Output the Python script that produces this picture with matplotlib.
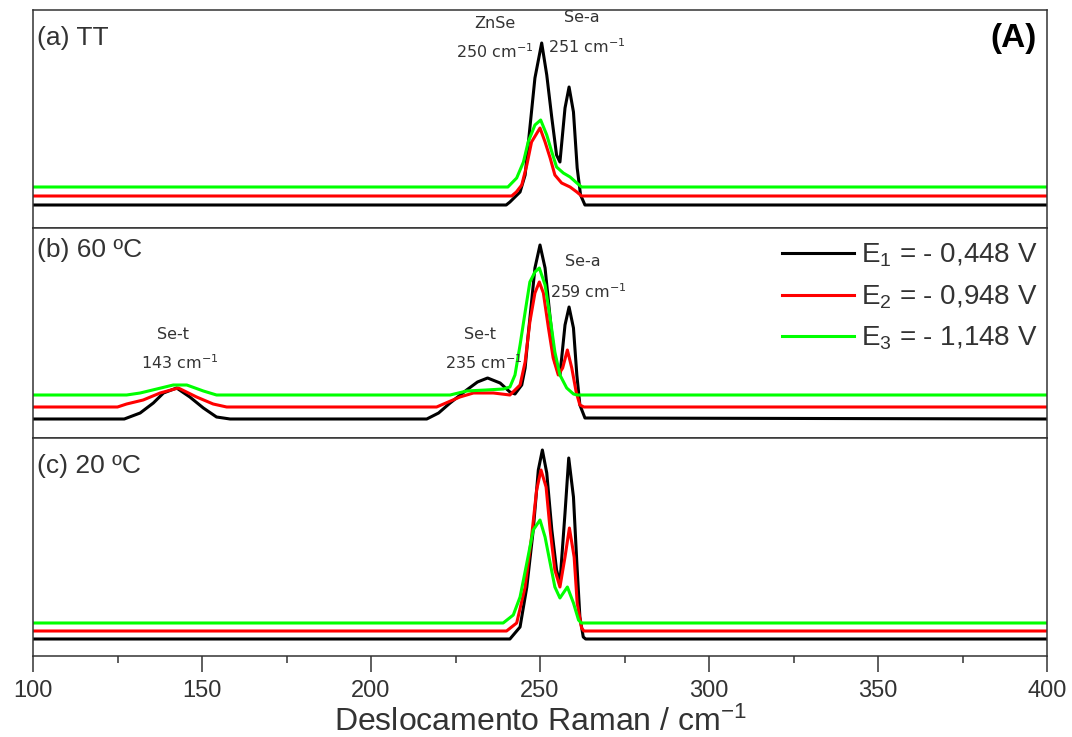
import matplotlib
matplotlib.use("Agg")
import matplotlib.pyplot as plt
from matplotlib.ticker import MultipleLocator

plt.rcParams['font.family'] = ['Liberation Sans', 'DejaVu Sans']
plt.rcParams['mathtext.fontset'] = 'custom'
plt.rcParams['mathtext.rm'] = 'Liberation Sans'
plt.rcParams['mathtext.it'] = 'Liberation Sans:italic'

TXT = '#333333'

# (a) TT
a_black_x = [100, 240, 241.1, 244.1, 245.6, 247, 248.5, 250.5, 252, 253.5, 254.9, 255.9, 257.4, 258.6, 259.9, 261, 262, 263.3, 400]
a_black_y = [0, 0, 3, 13, 30, 77, 127, 162, 130, 87, 50, 43, 97, 118, 93, 37, 10, 0, 0]
a_red_x = [100, 241.6, 243, 244.6, 246.1, 247.5, 250, 251.5, 253, 254.4, 256.4, 258.9, 260.9, 262.3, 400]
a_red_y = [0, 0, 4, 11, 31, 54, 68, 54, 38, 21, 13, 9, 4, 0, 0]
a_green_x = [100, 240.5, 243.1, 245.1, 246.5, 248.5, 250.2, 252, 253.5, 254.9, 256.9, 258.9, 260.9, 262.3, 400]
a_green_y = [0, 0, 9, 25, 45, 62, 67, 52, 35, 20, 14, 10, 4, 0, 0]

# (b) 60 ºC
b_black_x = [100, 127, 131.7, 135.6, 138.6, 142.5, 146.4, 150.4, 154.3, 158.3, 216.5, 220, 223.4, 228.3, 231.5,
             234.5, 238.2, 241.1, 242.6, 244.6, 245.6, 246.5, 247.5, 248.5, 250, 251.5, 253, 254.4, 255.9, 257.4,
             258.6, 259.9, 260.9, 261.8, 263.3, 400]
b_black_y = [0, 0, 6, 16, 26, 31, 22, 11, 2, 0, 0, 6, 16, 29, 37,
             41, 36, 27, 25, 34, 51, 84, 117, 151, 174, 151, 101, 57, 44, 94,
             112, 91, 44, 14, 1, 0]
b_red_x = [100, 125, 127.7, 132.6, 137.6, 143, 148.4, 153.3, 157.3, 219.4, 226.3, 230.3, 236.2, 241.1, 244.1,
           245.6, 247, 248.5, 249.8, 251, 252.5, 253.9, 255.4, 256.7, 258.1, 259.4, 260.7, 261.8, 263, 400]
b_red_y = [0, 0, 3, 7, 14, 19, 10, 3, 0, 0, 10, 14, 14, 12, 22,
           45, 85, 114, 125, 114, 79, 49, 32, 39, 57, 39, 15, 2, 0, 0]
b_green_x = [100, 127.7, 131.7, 136.6, 141.5, 145.5, 150.4, 154.3, 223.4, 228.3, 234, 239.1, 241.1, 242.6, 244.1,
             245.6, 247, 248.5, 249.8, 251.5, 253, 254.4, 255.9, 257.9, 259.9, 261, 400]
b_green_y = [0, 0, 2, 6, 10, 10, 4, 0, 0, 4, 5, 6, 8, 20, 50,
             83, 113, 123, 127, 110, 77, 43, 20, 7, 1, 0, 0]

# (c) 20 ºC
c_black_x = [100, 241.1, 244.1, 246.1, 248, 249.5, 250.7, 252, 253.5, 254.9, 255.9, 257.4, 258.5, 259.9, 260.9, 261.8, 262.8, 263.5, 400]
c_black_y = [0, 0, 12, 52, 109, 169, 189, 166, 109, 69, 56, 126, 181, 142, 76, 22, 2, 0, 0]
c_red_x = [100, 240.1, 243.1, 245.6, 247.5, 249, 250.3, 251.8, 253, 254.4, 255.9, 257.4, 258.7, 260.1, 261, 262.3, 263, 400]
c_red_y = [0, 0, 8, 44, 94, 141, 161, 144, 101, 61, 44, 74, 103, 74, 28, 3, 0, 0]
c_green_x = [100, 239.1, 242.1, 244.1, 246.1, 248, 250, 251.5, 253, 254.4, 255.9, 258.1, 259.9, 261.4, 262.2, 400]
c_green_y = [0, 0, 8, 26, 60, 93, 103, 86, 60, 36, 25, 36, 20, 3, 0, 0]

labels = [r'E$_\mathregular{1}$ = - 0,448 V', r'E$_\mathregular{2}$ = - 0,948 V', r'E$_\mathregular{3}$ = - 1,148 V']
colors = ['black', '#ff0000', '#00ff00']

panels = [
    ('(a) TT', [(a_black_x, a_black_y), (a_red_x, a_red_y), (a_green_x, a_green_y)], [0, 9, 18], (-23, 195)),
    ('(b) 60 ºC', [(b_black_x, b_black_y), (b_red_x, b_red_y), (b_green_x, b_green_y)], [0, 12, 24], (-19, 191)),
    ('(c) 20 ºC', [(c_black_x, c_black_y), (c_red_x, c_red_y), (c_green_x, c_green_y)], [0, 8, 16], (-17, 201)),
]

fig, axes = plt.subplots(3, 1, figsize=(10.72, 7.37), dpi=100, sharex=True,
                         gridspec_kw={'height_ratios': [218, 210, 218]})
fig.subplots_adjust(left=33/1072, right=1047/1072, top=1-10/737, bottom=1-656/737, hspace=0)

for ax, (title, curves, offs, ylim) in zip(axes, panels):
    for (x, y), off, c, lab in zip(curves, offs, colors, labels):
        ax.plot(x, [v + off for v in y], color=c, lw=2.2, label=lab)
    ax.set_ylim(*ylim)
    ax.set_yticks([])
    for s in ax.spines.values():
        s.set_color(TXT)
        s.set_linewidth(1.1)
    ax.tick_params(axis='x', which='both', bottom=False, labelbottom=False)
    ax.text(0.004, 0.87 if title != '(b) 60 ºC' else 0.895, title, transform=ax.transAxes,
            fontsize=19, color=TXT, va='center', ha='left')

axes[0].text(0.99, 0.87, '(A)', transform=axes[0].transAxes, fontsize=24, fontweight='bold',
             color='black', ha='right', va='center')

ax = axes[2]
ax.set_xlim(100, 400)
ax.xaxis.set_major_locator(MultipleLocator(50))
ax.xaxis.set_minor_locator(MultipleLocator(25))
ax.tick_params(axis='x', which='major', bottom=True, labelbottom=True, direction='out',
               length=11.5, width=1.1, color=TXT, labelsize=17, labelcolor=TXT, pad=6)
ax.tick_params(axis='x', which='minor', bottom=True, direction='out', length=5, width=1.1, color=TXT)
ax.set_xlabel(r'Deslocamento Raman / cm$^\mathregular{-1}$', fontsize=23, color=TXT, labelpad=3)

# peak annotations
ann = dict(ha='center', va='center', fontsize=11.5, color=TXT, family='DejaVu Sans')
axes[0].text(236.7, 182, 'ZnSe', **ann)
axes[0].text(236.7, 153, r'250 cm$^\mathregular{-1}$', **ann)
axes[0].text(262.4, 188, 'Se-a', **ann)
axes[0].text(263.9, 158, r'251 cm$^\mathregular{-1}$', **ann)
axes[1].text(262.7, 157, 'Se-a', **ann)
axes[1].text(264.2, 127, r'259 cm$^\mathregular{-1}$', **ann)
axes[1].text(232.2, 84, 'Se-t', **ann)
axes[1].text(233.4, 56, r'235 cm$^\mathregular{-1}$', **ann)
axes[1].text(141.4, 84, 'Se-t', **ann)
axes[1].text(143.5, 56, r'143 cm$^\mathregular{-1}$', **ann)

leg = axes[1].legend(loc='upper right', bbox_to_anchor=(1.004, 1.0), frameon=False, fontsize=20,
                     handlelength=2.6, handletextpad=0.25, labelspacing=0.5, borderaxespad=0.1)
for t in leg.get_texts():
    t.set_color(TXT)

fig.savefig('out.png', dpi=100)
